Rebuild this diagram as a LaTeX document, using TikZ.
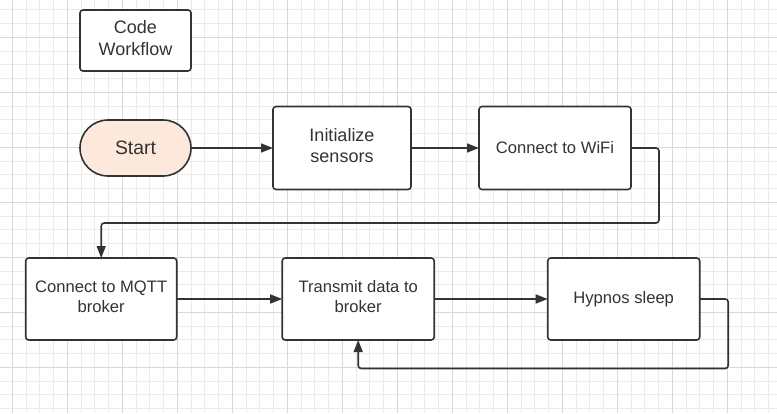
\documentclass[tikz,border=0pt]{standalone}
\usepackage{fontspec}
\setmainfont{Liberation Sans}
\usepackage{xcolor}
\usepackage{tikz}
\usetikzlibrary{positioning, arrows.meta}
\definecolor{linec}{HTML}{333333}
\definecolor{startfill}{HTML}{FDE8DC}
\definecolor{minorgrid}{HTML}{EBEBEB}
\definecolor{majorgrid}{HTML}{D8D8D8}
\tikzset{
    block/.style={
        draw = linec, fill = white, line width = 1.6pt,
        rounded corners = 3pt, inner sep = 0pt, outer sep = 0pt,
        minimum width = 152pt,
        minimum height = 82pt,
        align = center, text = linec,
        font = \fontsize{16.6}{20.6}\selectfont
    },
    twoline/.style = {text depth = 5pt},
    terminal/.style={
        block, rounded corners = 28pt, fill = startfill,
        minimum width = 111pt, minimum height = 56pt,
        font = \fontsize{19.4}{23}\selectfont
    },
    line/.style = {-{Triangle[length=12pt,width=9pt]}, draw = linec,
        line width = 1.6pt, rounded corners = 3pt}
}

\begin{document}
\begin{tikzpicture}[x = 1pt, y = 1pt]

    \useasboundingbox (0,0) rectangle (777,-413);
    % grid
    \foreach \i in {-1,...,55}
        \draw[minorgrid, line width = 0.8pt] ({12.3+\i*13.75},0) -- ({12.3+\i*13.75},-413);
    \foreach \i in {-2,...,27}
        \draw[minorgrid, line width = 0.8pt] (0,{-37.3-\i*13.75}) -- (777,{-37.3-\i*13.75});
    \foreach \i in {0,...,13}
        \draw[majorgrid, line width = 0.8pt] ({12.3+\i*55},0) -- ({12.3+\i*55},-413);
    \foreach \i in {0,...,6}
        \draw[majorgrid, line width = 0.8pt] (0,{-37.3-\i*55}) -- (777,{-37.3-\i*55});

    \node[block, twoline, minimum width = 111pt, minimum height = 61pt,
        font = \fontsize{18}{22}\selectfont] (title) at (135.5,-40.5) {Code\\Workflow};
    \node[terminal, below = 49pt of title] (start) {Start};
    \node[block, twoline, right = 82pt of start, minimum width = 138pt, minimum height = 83pt,
        font = \fontsize{18}{21.7}\selectfont] (init) {Initialize\\sensors};
    \node[block, right = 68pt of init, minimum height = 83pt] (wifi) {Connect to WiFi};
    \node[block, twoline, minimum width = 151pt] (mqtt) at (101.2,-299) {Connect to MQTT\\broker};
    \node[block, twoline, right = 105.5pt of mqtt] (send) {Transmit data to\\broker};
    \node[block, right = 113.5pt of send] (sleep) {Hypnos sleep};

    \draw[line] (start) -- (init);
    \draw[line] (init) -- (wifi);
    \draw[line] (wifi.east) -- ++(28,0) -- ++(0,-75) -| (mqtt.north);
    \draw[line] (mqtt) -- (send);
    \draw[line] (send) -- (sleep);
    \draw[line] (sleep.east) -- ++(28.5,0) -- ++(0,-69.5) -| (send.south);

\end{tikzpicture}
\end{document}
